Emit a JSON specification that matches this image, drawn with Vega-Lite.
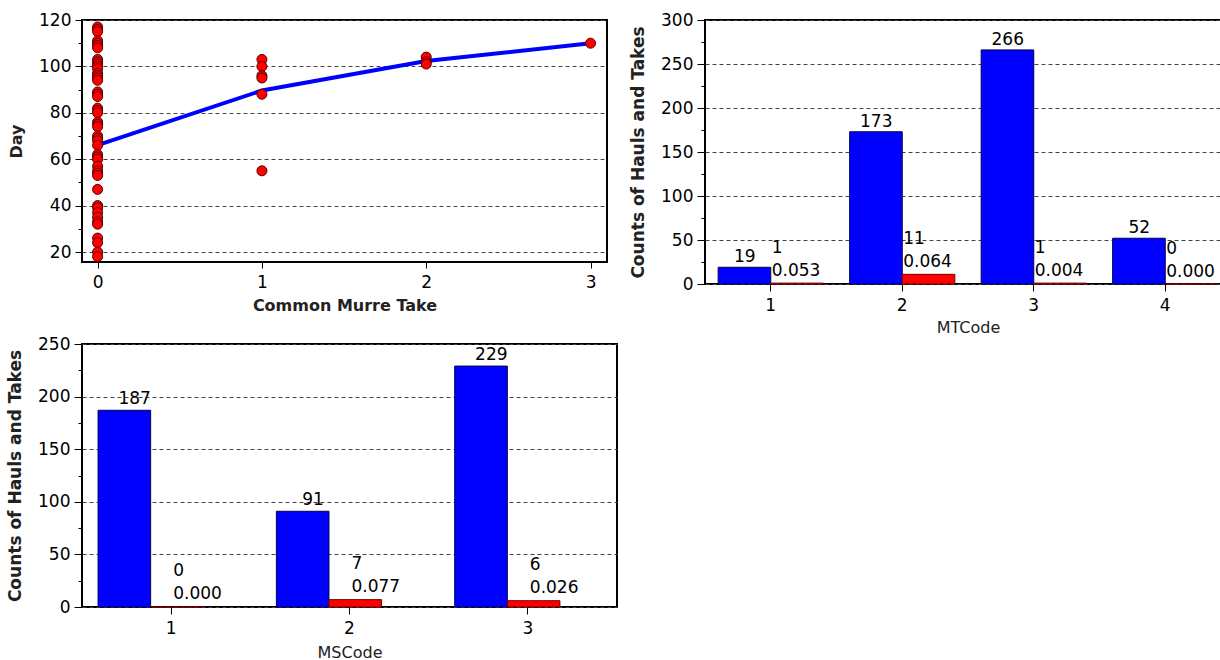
{
  "$schema": "https://vega.github.io/schema/vega-lite/v6.json",
  "background": "white",
  "padding": {"left": 5, "top": 10, "right": 0, "bottom": 0},
  "config": {
    "font": "DejaVu Sans",
    "view": {"stroke": "black", "strokeWidth": 2},
    "axis": {
      "domain": false,
      "labelFont": "DejaVu Sans",
      "labelFontSize": 17,
      "labelColor": "black",
      "labelFlush": false,
      "tickColor": "black",
      "tickWidth": 1,
      "titleFont": "DejaVu Sans",
      "titleFontSize": 16,
      "titleColor": "#222222",
      "gridColor": "#444444",
      "gridDash": [4, 3],
      "gridWidth": 1
    },
    "axisX": {"labelAngle": 0}
  },
  "datasets": {
    "scatter": [
      {"take": 0, "day": 117}, {"take": 0, "day": 116}, {"take": 0, "day": 115}, {"take": 0, "day": 111},
      {"take": 0, "day": 110}, {"take": 0, "day": 109}, {"take": 0, "day": 108}, {"take": 0, "day": 103},
      {"take": 0, "day": 102}, {"take": 0, "day": 101}, {"take": 0, "day": 100}, {"take": 0, "day": 99},
      {"take": 0, "day": 97}, {"take": 0, "day": 96}, {"take": 0, "day": 95}, {"take": 0, "day": 94},
      {"take": 0, "day": 89}, {"take": 0, "day": 88}, {"take": 0, "day": 87}, {"take": 0, "day": 82},
      {"take": 0, "day": 81}, {"take": 0, "day": 80}, {"take": 0, "day": 76}, {"take": 0, "day": 75},
      {"take": 0, "day": 74}, {"take": 0, "day": 70}, {"take": 0, "day": 69}, {"take": 0, "day": 68},
      {"take": 0, "day": 66}, {"take": 0, "day": 62}, {"take": 0, "day": 61}, {"take": 0, "day": 60},
      {"take": 0, "day": 57}, {"take": 0, "day": 55}, {"take": 0, "day": 54}, {"take": 0, "day": 53},
      {"take": 0, "day": 47}, {"take": 0, "day": 40}, {"take": 0, "day": 39}, {"take": 0, "day": 37},
      {"take": 0, "day": 35}, {"take": 0, "day": 33}, {"take": 0, "day": 32}, {"take": 0, "day": 26},
      {"take": 0, "day": 24}, {"take": 0, "day": 20}, {"take": 0, "day": 18},
      {"take": 1, "day": 103}, {"take": 1, "day": 100}, {"take": 1, "day": 96}, {"take": 1, "day": 95},
      {"take": 1, "day": 88}, {"take": 1, "day": 55},
      {"take": 2, "day": 104}, {"take": 2, "day": 102}, {"take": 2, "day": 101},
      {"take": 3, "day": 110}
    ],
    "means": [
      {"take": 0, "day": 66.1}, {"take": 1, "day": 89.6}, {"take": 2, "day": 102.3}, {"take": 3, "day": 110}
    ],
    "mt": [
      {"code": "1", "series": "Hauls", "count": 19},
      {"code": "1", "series": "Takes", "count": 1, "rate": 0.053},
      {"code": "2", "series": "Hauls", "count": 173},
      {"code": "2", "series": "Takes", "count": 11, "rate": 0.064},
      {"code": "3", "series": "Hauls", "count": 266},
      {"code": "3", "series": "Takes", "count": 1, "rate": 0.004},
      {"code": "4", "series": "Hauls", "count": 52},
      {"code": "4", "series": "Takes", "count": 0, "rate": 0.0}
    ],
    "ms": [
      {"code": "1", "series": "Hauls", "count": 187},
      {"code": "1", "series": "Takes", "count": 0, "rate": 0.0},
      {"code": "2", "series": "Hauls", "count": 91},
      {"code": "2", "series": "Takes", "count": 7, "rate": 0.077},
      {"code": "3", "series": "Hauls", "count": 229},
      {"code": "3", "series": "Takes", "count": 6, "rate": 0.026}
    ]
  },
  "columns": 2,
  "align": "each",
  "spacing": {"row": -2, "column": 10},
  "concat": [
    {
      "width": 525,
      "height": 242,
      "encoding": {
        "x": {
          "field": "take", "type": "quantitative",
          "scale": {"domain": [-0.095, 3.1], "nice": false, "zero": false},
          "axis": {"values": [0, 1, 2, 3], "grid": false, "tickSize": 6, "labelPadding": 6, "titlePadding": 7, "titleFontWeight": "bold"},
          "title": "Common Murre Take"
        },
        "y": {
          "field": "day", "type": "quantitative",
          "scale": {"domain": [15.7, 120], "nice": false, "zero": false},
          "axis": {
            "values": [20, 30, 40, 50, 60, 70, 80, 90, 100, 110, 120],
            "labelExpr": "datum.value % 20 === 0 ? datum.label : ''",
            "tickSize": {"condition": {"test": "datum.value % 20 === 0", "value": 7}, "value": 4},
            "gridOpacity": {"condition": {"test": "datum.value % 20 === 0", "value": 1}, "value": 0},
            "labelPadding": 4,
            "titlePadding": 14,
            "titleFontWeight": "bold"
          },
          "title": "Day"
        }
      },
      "layer": [
        {
          "data": {"name": "means"},
          "mark": {"type": "line", "color": "#0000ff", "strokeWidth": 4}
        },
        {
          "data": {"name": "scatter"},
          "mark": {"type": "circle", "fill": "#ff0000", "stroke": "#500000", "strokeWidth": 1, "size": 100, "opacity": 1}
        }
      ]
    },
    {
      "width": 526,
      "height": 264,
      "data": {"name": "mt"},
      "encoding": {
        "x": {
          "field": "code", "type": "nominal",
          "scale": {"paddingInner": 0.2, "paddingOuter": 0.1},
          "axis": {"grid": false, "tickSize": 7, "labelPadding": 6, "titlePadding": 6, "titleFontWeight": "normal", "titleFontSize": 16},
          "title": "MTCode"
        },
        "y": {
          "field": "count", "type": "quantitative",
          "scale": {"domain": [0, 300], "nice": false},
          "axis": {
            "values": [0, 25, 50, 75, 100, 125, 150, 175, 200, 225, 250, 275, 300],
            "labelExpr": "datum.value % 50 === 0 ? datum.label : ''",
            "tickSize": {"condition": {"test": "datum.value % 50 === 0", "value": 8}, "value": 4},
            "gridOpacity": {"condition": {"test": "datum.value % 50 === 0", "value": 1}, "value": 0},
            "labelPadding": 4,
            "titlePadding": 13,
            "titleFontWeight": "bold",
            "titleFontSize": 17
          },
          "title": "Counts of Hauls and Takes"
        }
      },
      "layer": [
        {
          "mark": {"type": "bar", "strokeWidth": 1},
          "encoding": {
            "xOffset": {"field": "series", "type": "nominal", "scale": {"paddingInner": 0, "paddingOuter": 0}},
            "color": {"field": "series", "type": "nominal", "scale": {"domain": ["Hauls", "Takes"], "range": ["#0000ff", "#ff0000"]}, "legend": null},
            "stroke": {"field": "series", "type": "nominal", "scale": {"domain": ["Hauls", "Takes"], "range": ["#000050", "#700000"]}, "legend": null}
          }
        },
        {
          "transform": [{"filter": "datum.series === 'Hauls'"}],
          "mark": {"type": "text", "dx": -26, "dy": -5, "baseline": "alphabetic", "align": "center", "fontSize": 17, "font": "DejaVu Sans", "color": "black"},
          "encoding": {"text": {"field": "count", "type": "quantitative"}}
        },
        {
          "transform": [{"filter": "datum.series === 'Takes'"}],
          "mark": {"type": "text", "dx": 1, "dy": -7, "baseline": "alphabetic", "align": "left", "fontSize": 17, "font": "DejaVu Sans", "color": "black"},
          "encoding": {"text": {"field": "rate", "type": "quantitative", "format": ".3f"}}
        },
        {
          "transform": [{"filter": "datum.series === 'Takes'"}],
          "mark": {"type": "text", "dx": 1, "dy": -30, "baseline": "alphabetic", "align": "left", "fontSize": 17, "font": "DejaVu Sans", "color": "black"},
          "encoding": {"text": {"field": "count", "type": "quantitative"}}
        }
      ]
    },
    {
      "width": 535,
      "height": 263,
      "data": {"name": "ms"},
      "encoding": {
        "x": {
          "field": "code", "type": "nominal",
          "scale": {"paddingInner": 0.18, "paddingOuter": 0.09},
          "axis": {"grid": false, "tickSize": 7, "labelPadding": 6, "titlePadding": 8, "titleFontWeight": "normal", "titleFontSize": 16},
          "title": "MSCode"
        },
        "y": {
          "field": "count", "type": "quantitative",
          "scale": {"domain": [0, 250], "nice": false},
          "axis": {
            "values": [0, 25, 50, 75, 100, 125, 150, 175, 200, 225, 250],
            "labelExpr": "datum.value % 50 === 0 ? datum.label : ''",
            "tickSize": {"condition": {"test": "datum.value % 50 === 0", "value": 8}, "value": 4},
            "gridOpacity": {"condition": {"test": "datum.value % 50 === 0", "value": 1}, "value": 0},
            "labelPadding": 4,
            "titlePadding": 13,
            "titleFontWeight": "bold",
            "titleFontSize": 17
          },
          "title": "Counts of Hauls and Takes"
        }
      },
      "layer": [
        {
          "mark": {"type": "bar", "strokeWidth": 1},
          "encoding": {
            "xOffset": {"field": "series", "type": "nominal", "scale": {"paddingInner": 0, "paddingOuter": 0}},
            "color": {"field": "series", "type": "nominal", "scale": {"domain": ["Hauls", "Takes"], "range": ["#0000ff", "#ff0000"]}, "legend": null},
            "stroke": {"field": "series", "type": "nominal", "scale": {"domain": ["Hauls", "Takes"], "range": ["#000050", "#700000"]}, "legend": null}
          }
        },
        {
          "transform": [{"filter": "datum.series === 'Hauls'"}],
          "mark": {"type": "text", "dx": -36.5, "dy": -6, "baseline": "alphabetic", "align": "center", "fontSize": 17, "font": "DejaVu Sans", "color": "black"},
          "encoding": {"text": {"field": "count", "type": "quantitative"}}
        },
        {
          "transform": [{"filter": "datum.series === 'Takes'"}],
          "mark": {"type": "text", "dx": 2, "dy": -8, "baseline": "alphabetic", "align": "left", "fontSize": 17, "font": "DejaVu Sans", "color": "black"},
          "encoding": {"text": {"field": "rate", "type": "quantitative", "format": ".3f"}}
        },
        {
          "transform": [{"filter": "datum.series === 'Takes'"}],
          "mark": {"type": "text", "dx": 2, "dy": -31, "baseline": "alphabetic", "align": "left", "fontSize": 17, "font": "DejaVu Sans", "color": "black"},
          "encoding": {"text": {"field": "count", "type": "quantitative"}}
        }
      ]
    }
  ]
}
